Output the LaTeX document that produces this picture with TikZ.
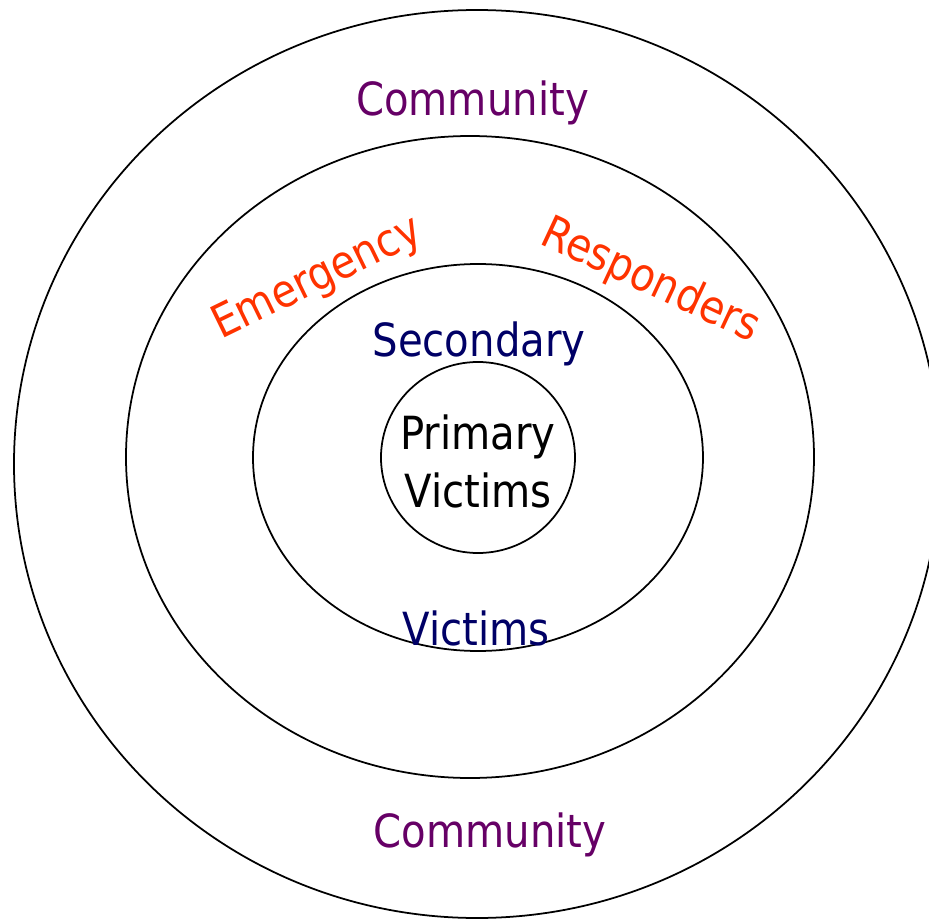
\documentclass[tikz,border=0pt]{standalone}
\usepackage{fontspec}
\setmainfont{DejaVu Sans}[FakeStretch=0.88]
\usetikzlibrary{shapes,positioning}

\definecolor{commpurple}{HTML}{660066}
\definecolor{respred}{HTML}{FF3300}
\definecolor{secnavy}{HTML}{000066}

\begin{document}
\begin{tikzpicture}[
  ring/.style={draw, ellipse, line width=1pt, inner sep=0pt},
  lbl/.style={font=\fontsize{26}{33}\selectfont, inner sep=0pt, anchor=base}
]
\useasboundingbox (-9.56,-9.18) rectangle (9.02,9.2);

% Rings
\node[ring, minimum width=18.52cm, minimum height=18.16cm] (community) at (-0.02,-0.08) {};
\node[ring, minimum width=13.76cm, minimum height=12.84cm] (responders) at (-0.16,0.06) {};
\node[ring, minimum width=9cm, minimum height=7.74cm] (secondary) at (0,0.05) {};
\node[ring, minimum width=3.88cm, minimum height=3.82cm] (primary) at (0,0.05) {};

% Labels
\node[lbl, text=commpurple] (commtop) at (-0.11,6.88) {Community};
\node[lbl, text=commpurple] (commbot) at (0.24,-7.74) {Community};
\node[lbl, text=respred, rotate=26] (emerg) at (-3.1,3.4) {Emergency};
\node[lbl, text=respred, rotate=-25] (resp) at (3.34,3.34) {Responders};
\node[lbl, text=secnavy] (sectop) at (0.02,2.08) {Secondary};
\node[lbl, text=secnavy] (secbot) at (-0.04,-3.70) {Victims};
\node[font=\fontsize{26}{33}\selectfont, align=center, inner sep=0pt] (primlbl) at (0,-0.02) {Primary\\Victims};
\end{tikzpicture}
\end{document}
